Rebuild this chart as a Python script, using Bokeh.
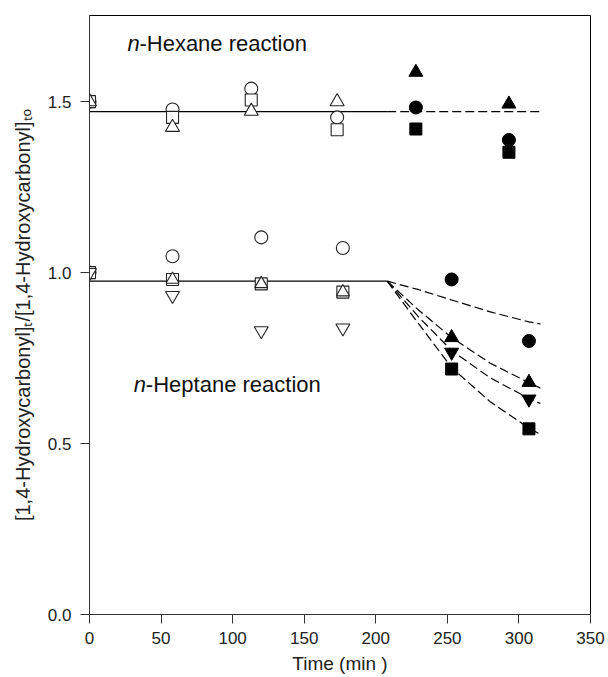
from bokeh.plotting import figure
from bokeh.models import Range1d, FixedTicker, CustomJSTickFormatter
from bokeh.core.properties import value
from bokeh.embed import file_html
from bokeh.resources import INLINE

# ---- data ----
x_ticks = [0, 50, 100, 150, 200, 250, 300, 350]
y_ticks = [0.0, 0.5, 1.0, 1.5]
x_title = "Time (min )"
y_title = "[1,4-Hydroxycarbonyl]\u209c/[1,4-Hydroxycarbonyl]\u209c\u2092"

# n-Hexane, open symbols
hex_t_circle = [0, 58, 113, 173]
hex_circle = [1.50, 1.477, 1.538, 1.454]
hex_t_square = [0, 58, 113, 173]
hex_square = [1.50, 1.454, 1.505, 1.418]
hex_t_triangle = [0, 58, 113, 173]
hex_triangle = [1.50, 1.425, 1.472, 1.500]

# n-Hexane, filled symbols
hex_t_filled = [228, 293]
hex_f_triangle = [1.586, 1.493]
hex_f_circle = [1.483, 1.388]
hex_f_square = [1.420, 1.352]

# n-Heptane, open symbols
hep_t_circle = [0, 58, 120, 177]
hep_circle = [1.00, 1.048, 1.103, 1.072]
hep_t_square = [0, 58, 120, 177]
hep_square = [1.00, 0.980, 0.967, 0.943]
hep_t_triangle = [58, 120, 177]
hep_triangle = [0.980, 0.967, 0.943]
hep_t_invtri = [0, 58, 120, 177]
hep_invtri = [1.00, 0.933, 0.830, 0.838]

# n-Heptane, filled symbols
hep_t_filled = [253, 307]
hep_f_circle = [0.980, 0.800]
hep_f_triangle = [0.810, 0.679]
hep_f_invtri = [0.767, 0.630]
hep_f_square = [0.718, 0.543]

# reference lines
hex_solid_t = [0, 208]
hex_solid_y = [1.471, 1.471]
hex_dash_t = [208, 315]
hex_dash_y = [1.471, 1.471]
hep_solid_t = [0, 208]
hep_solid_y = [0.975, 0.975]

# dashed decay curves (heptane)
curve_t = [208, 230, 253, 280, 307, 315]
curve_circle = [0.975, 0.950, 0.920, 0.885, 0.856, 0.850]
curve_triangle = [0.975, 0.890, 0.810, 0.735, 0.678, 0.662]
curve_invtri = [0.975, 0.870, 0.772, 0.692, 0.632, 0.617]
curve_square = [0.975, 0.850, 0.722, 0.622, 0.545, 0.527]

FONT = "Liberation Sans"

p = figure(width=608, height=677, output_backend="svg", toolbar_location=None,
           x_range=Range1d(0, 350), y_range=Range1d(0, 1.752),
           min_border_left=89, min_border_top=15, min_border_right=18,
           min_border_bottom=63)
p.grid.visible = False
p.outline_line_color = "black"
p.outline_line_width = 1
p.background_fill_color = "white"
p.border_fill_color = "white"

for ax in (p.xaxis[0], p.yaxis[0]):
    ax.major_label_text_font = FONT
    ax.major_label_text_font_size = "17px"
    ax.major_label_text_color = "#222222"
    ax.axis_label_text_font = FONT
    ax.axis_label_text_font_size = "19px"
    ax.axis_label_text_font_style = "normal"
    ax.axis_label_text_color = "#222222"
    ax.minor_tick_line_color = None
    ax.major_tick_in = 0
    ax.major_tick_out = 9
    ax.major_tick_line_color = "#333333"
    ax.axis_line_color = "#333333"

p.yaxis.axis_label_text_font_size = "20px"
p.xaxis.ticker = FixedTicker(ticks=x_ticks)
p.yaxis.ticker = FixedTicker(ticks=y_ticks)
p.yaxis.formatter = CustomJSTickFormatter(code="return tick.toFixed(1);")
p.xaxis.axis_label = x_title
p.yaxis.axis_label = y_title
p.xaxis.major_label_standoff = 8
p.xaxis.axis_label_standoff = 6
p.yaxis.major_label_standoff = 9
p.yaxis.axis_label_standoff = 11

# lines
p.line(hex_solid_t, hex_solid_y, line_color="black", line_width=1.2)
p.line(hex_dash_t, hex_dash_y, line_color="black", line_width=1.2, line_dash="9 4")
p.line(hep_solid_t, hep_solid_y, line_color="black", line_width=1.2)
for cy in (curve_circle, curve_triangle, curve_invtri, curve_square):
    p.line(curve_t, cy, line_color="black", line_width=1.2, line_dash="9 4")

op = dict(fill_color="white", line_color="#222222", line_width=1.1)
fl = dict(fill_color="black", line_color="black", line_width=1)

# hexane open
p.scatter(hex_t_circle, hex_circle, marker="circle", size=13, **op)
p.scatter(hex_t_square, hex_square, marker="square", size=12, **op)
p.scatter(hex_t_triangle, hex_triangle, marker="triangle", size=14, **op)
# hexane filled
p.scatter(hex_t_filled, hex_f_triangle, marker="triangle", size=14, **fl)
p.scatter(hex_t_filled, hex_f_circle, marker="circle", size=13, **fl)
p.scatter(hex_t_filled, hex_f_square, marker="square", size=12, **fl)

# heptane open
p.scatter(hep_t_circle, hep_circle, marker="circle", size=13, **op)
p.scatter(hep_t_square, hep_square, marker="square", size=12, **op)
p.scatter(hep_t_triangle, hep_triangle, marker="triangle", size=13, **op)
p.scatter(hep_t_invtri, hep_invtri, marker="inverted_triangle", size=14, **op)
# heptane filled
p.scatter(hep_t_filled, hep_f_circle, marker="circle", size=13, **fl)
p.scatter(hep_t_filled, hep_f_triangle, marker="triangle", size=14, **fl)
p.scatter(hep_t_filled, hep_f_invtri, marker="inverted_triangle", size=14, **fl)
p.scatter(hep_t_filled, hep_f_square, marker="square", size=12, **fl)

# annotations
for (tx, ty, word) in [(26.5, 1.67, "-Hexane reaction"), (31, 0.672, "-Heptane reaction")]:
    p.text([tx], [ty], text=["n"], text_font=value(FONT), text_font_size="22px",
           text_font_style="italic", text_baseline="middle", text_color="#111111")
    p.text([tx], [ty], text=[word], x_offset=12, text_font=value(FONT),
           text_font_size="22px", text_baseline="middle", text_color="#111111")

open("out.html", "w").write(file_html(p, INLINE))
